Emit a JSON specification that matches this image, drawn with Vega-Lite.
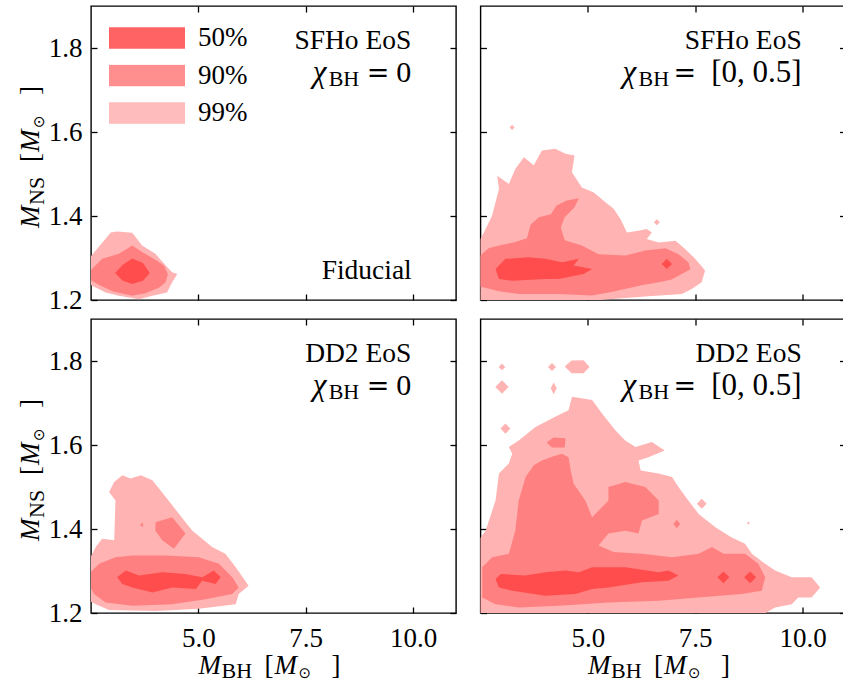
{
  "$schema": "https://vega.github.io/schema/vega-lite/v6.json",
  "padding": {"left": 16, "top": 4, "right": 0, "bottom": 0},
  "config": {
    "font": "Liberation Serif",
    "view": {"stroke": "#000", "strokeWidth": 1.4},
    "axis": {"domain": false, "grid": false, "ticks": true, "tickSize": -6, "tickColor": "#000", "tickWidth": 1.3, "labelFont": "Liberation Serif", "labelFontSize": 27, "labelColor": "#000", "labelFlush": false, "labelOverlap": false, "labelBound": false},
    "legend": {"labelFont": "Liberation Serif"},
    "text": {"font": "Liberation Serif", "fontSize": 27, "color": "#000"}
  },
  "datasets": {
    "c": [
      {"p":"TL","l":"99%","g":"a","x":2.45,"y":1.298},{"p":"TL","l":"99%","g":"a","x":2.96,"y":1.361},{"p":"TL","l":"99%","g":"a","x":3.11,"y":1.363},{"p":"TL","l":"99%","g":"a","x":3.46,"y":1.36},{"p":"TL","l":"99%","g":"a","x":3.69,"y":1.33},{"p":"TL","l":"99%","g":"a","x":4.0,"y":1.31},{"p":"TL","l":"99%","g":"a","x":4.24,"y":1.282},{"p":"TL","l":"99%","g":"a","x":4.39,"y":1.266},{"p":"TL","l":"99%","g":"a","x":4.51,"y":1.262},{"p":"TL","l":"99%","g":"a","x":4.39,"y":1.242},{"p":"TL","l":"99%","g":"a","x":4.27,"y":1.218},{"p":"TL","l":"99%","g":"a","x":3.93,"y":1.21},{"p":"TL","l":"99%","g":"a","x":3.62,"y":1.202},{"p":"TL","l":"99%","g":"a","x":3.15,"y":1.21},{"p":"TL","l":"99%","g":"a","x":2.84,"y":1.218},{"p":"TL","l":"99%","g":"a","x":2.61,"y":1.23},{"p":"TL","l":"99%","g":"a","x":2.45,"y":1.238},
      {"p":"TL","l":"90%","g":"b","x":2.45,"y":1.266},{"p":"TL","l":"90%","g":"b","x":2.76,"y":1.298},{"p":"TL","l":"90%","g":"b","x":3.15,"y":1.31},{"p":"TL","l":"90%","g":"b","x":3.46,"y":1.33},{"p":"TL","l":"90%","g":"b","x":3.69,"y":1.314},{"p":"TL","l":"90%","g":"b","x":4.0,"y":1.296},{"p":"TL","l":"90%","g":"b","x":4.2,"y":1.282},{"p":"TL","l":"90%","g":"b","x":4.29,"y":1.262},{"p":"TL","l":"90%","g":"b","x":4.24,"y":1.242},{"p":"TL","l":"90%","g":"b","x":4.08,"y":1.229},{"p":"TL","l":"90%","g":"b","x":3.77,"y":1.216},{"p":"TL","l":"90%","g":"b","x":3.46,"y":1.21},{"p":"TL","l":"90%","g":"b","x":3.0,"y":1.221},{"p":"TL","l":"90%","g":"b","x":2.69,"y":1.236},{"p":"TL","l":"90%","g":"b","x":2.45,"y":1.25},
      {"p":"TL","l":"50%","g":"c","x":3.06,"y":1.264},{"p":"TL","l":"50%","g":"c","x":3.24,"y":1.284},{"p":"TL","l":"50%","g":"c","x":3.46,"y":1.299},{"p":"TL","l":"50%","g":"c","x":3.71,"y":1.288},{"p":"TL","l":"50%","g":"c","x":3.87,"y":1.264},{"p":"TL","l":"50%","g":"c","x":3.71,"y":1.246},{"p":"TL","l":"50%","g":"c","x":3.46,"y":1.238},{"p":"TL","l":"50%","g":"c","x":3.24,"y":1.246},

      {"p":"TR","l":"99%","g":"d","x":2.45,"y":1.19},{"p":"TR","l":"99%","g":"d","x":2.45,"y":1.337},{"p":"TR","l":"99%","g":"d","x":2.58,"y":1.361},{"p":"TR","l":"99%","g":"d","x":2.77,"y":1.401},{"p":"TR","l":"99%","g":"d","x":2.93,"y":1.464},{"p":"TR","l":"99%","g":"d","x":2.89,"y":1.496},{"p":"TR","l":"99%","g":"d","x":3.16,"y":1.476},{"p":"TR","l":"99%","g":"d","x":3.31,"y":1.512},{"p":"TR","l":"99%","g":"d","x":3.51,"y":1.54},{"p":"TR","l":"99%","g":"d","x":3.74,"y":1.521},{"p":"TR","l":"99%","g":"d","x":3.93,"y":1.556},{"p":"TR","l":"99%","g":"d","x":4.24,"y":1.56},{"p":"TR","l":"99%","g":"d","x":4.48,"y":1.548},{"p":"TR","l":"99%","g":"d","x":4.69,"y":1.544},{"p":"TR","l":"99%","g":"d","x":4.63,"y":1.504},{"p":"TR","l":"99%","g":"d","x":4.86,"y":1.468},{"p":"TR","l":"99%","g":"d","x":5.14,"y":1.456},{"p":"TR","l":"99%","g":"d","x":5.41,"y":1.433},{"p":"TR","l":"99%","g":"d","x":5.6,"y":1.417},{"p":"TR","l":"99%","g":"d","x":5.76,"y":1.393},{"p":"TR","l":"99%","g":"d","x":5.91,"y":1.361},{"p":"TR","l":"99%","g":"d","x":6.18,"y":1.365},{"p":"TR","l":"99%","g":"d","x":6.37,"y":1.369},{"p":"TR","l":"99%","g":"d","x":6.49,"y":1.361},{"p":"TR","l":"99%","g":"d","x":6.37,"y":1.345},{"p":"TR","l":"99%","g":"d","x":6.65,"y":1.337},{"p":"TR","l":"99%","g":"d","x":7.04,"y":1.341},{"p":"TR","l":"99%","g":"d","x":7.27,"y":1.321},{"p":"TR","l":"99%","g":"d","x":7.5,"y":1.298},{"p":"TR","l":"99%","g":"d","x":7.73,"y":1.27},{"p":"TR","l":"99%","g":"d","x":7.65,"y":1.242},{"p":"TR","l":"99%","g":"d","x":7.42,"y":1.226},{"p":"TR","l":"99%","g":"d","x":7.19,"y":1.214},{"p":"TR","l":"99%","g":"d","x":6.41,"y":1.209},{"p":"TR","l":"99%","g":"d","x":5.48,"y":1.202},{"p":"TR","l":"99%","g":"d","x":4.32,"y":1.19},
      {"p":"TR","l":"99%","g":"e","x":3.177,"y":1.611},{"p":"TR","l":"99%","g":"e","x":3.235,"y":1.617},{"p":"TR","l":"99%","g":"e","x":3.293,"y":1.611},{"p":"TR","l":"99%","g":"e","x":3.235,"y":1.605},
      {"p":"TR","l":"99%","g":"f","x":6.537,"y":1.385},{"p":"TR","l":"99%","g":"f","x":6.607,"y":1.392},{"p":"TR","l":"99%","g":"f","x":6.677,"y":1.385},{"p":"TR","l":"99%","g":"f","x":6.607,"y":1.378},
      {"p":"TR","l":"90%","g":"g","x":2.45,"y":1.302},{"p":"TR","l":"90%","g":"g","x":2.69,"y":1.323},{"p":"TR","l":"90%","g":"g","x":2.93,"y":1.33},{"p":"TR","l":"90%","g":"g","x":3.27,"y":1.337},{"p":"TR","l":"90%","g":"g","x":3.58,"y":1.347},{"p":"TR","l":"90%","g":"g","x":3.67,"y":1.38},{"p":"TR","l":"90%","g":"g","x":3.86,"y":1.397},{"p":"TR","l":"90%","g":"g","x":4.14,"y":1.404},{"p":"TR","l":"90%","g":"g","x":4.27,"y":1.425},{"p":"TR","l":"90%","g":"g","x":4.51,"y":1.437},{"p":"TR","l":"90%","g":"g","x":4.79,"y":1.442},{"p":"TR","l":"90%","g":"g","x":4.69,"y":1.421},{"p":"TR","l":"90%","g":"g","x":4.46,"y":1.397},{"p":"TR","l":"90%","g":"g","x":4.37,"y":1.373},{"p":"TR","l":"90%","g":"g","x":4.46,"y":1.342},{"p":"TR","l":"90%","g":"g","x":4.86,"y":1.33},{"p":"TR","l":"90%","g":"g","x":5.25,"y":1.309},{"p":"TR","l":"90%","g":"g","x":5.88,"y":1.306},{"p":"TR","l":"90%","g":"g","x":6.34,"y":1.318},{"p":"TR","l":"90%","g":"g","x":6.81,"y":1.323},{"p":"TR","l":"90%","g":"g","x":7.11,"y":1.309},{"p":"TR","l":"90%","g":"g","x":7.34,"y":1.29},{"p":"TR","l":"90%","g":"g","x":7.39,"y":1.273},{"p":"TR","l":"90%","g":"g","x":6.95,"y":1.249},{"p":"TR","l":"90%","g":"g","x":6.65,"y":1.242},{"p":"TR","l":"90%","g":"g","x":6.25,"y":1.235},{"p":"TR","l":"90%","g":"g","x":5.55,"y":1.219},{"p":"TR","l":"90%","g":"g","x":5.09,"y":1.211},{"p":"TR","l":"90%","g":"g","x":4.32,"y":1.214},{"p":"TR","l":"90%","g":"g","x":3.39,"y":1.214},{"p":"TR","l":"90%","g":"g","x":2.93,"y":1.221},{"p":"TR","l":"90%","g":"g","x":2.58,"y":1.23},{"p":"TR","l":"90%","g":"g","x":2.45,"y":1.233},
      {"p":"TR","l":"50%","g":"h","x":2.85,"y":1.274},{"p":"TR","l":"50%","g":"h","x":3.08,"y":1.298},{"p":"TR","l":"50%","g":"h","x":3.62,"y":1.302},{"p":"TR","l":"50%","g":"h","x":4.01,"y":1.298},{"p":"TR","l":"50%","g":"h","x":4.4,"y":1.29},{"p":"TR","l":"50%","g":"h","x":4.79,"y":1.298},{"p":"TR","l":"50%","g":"h","x":4.67,"y":1.282},{"p":"TR","l":"50%","g":"h","x":5.1,"y":1.274},{"p":"TR","l":"50%","g":"h","x":4.9,"y":1.262},{"p":"TR","l":"50%","g":"h","x":4.32,"y":1.25},{"p":"TR","l":"50%","g":"h","x":4.01,"y":1.25},{"p":"TR","l":"50%","g":"h","x":3.24,"y":1.246},{"p":"TR","l":"50%","g":"h","x":2.93,"y":1.25},
      {"p":"TR","l":"50%","g":"i","x":6.72,"y":1.286},{"p":"TR","l":"50%","g":"i","x":6.84,"y":1.298},{"p":"TR","l":"50%","g":"i","x":6.96,"y":1.286},{"p":"TR","l":"50%","g":"i","x":6.84,"y":1.274},

      {"p":"BL","l":"99%","g":"j","x":2.45,"y":1.229},{"p":"BL","l":"99%","g":"j","x":2.45,"y":1.325},{"p":"BL","l":"99%","g":"j","x":2.61,"y":1.357},{"p":"BL","l":"99%","g":"j","x":2.76,"y":1.377},{"p":"BL","l":"99%","g":"j","x":3.04,"y":1.373},{"p":"BL","l":"99%","g":"j","x":3.07,"y":1.468},{"p":"BL","l":"99%","g":"j","x":2.92,"y":1.488},{"p":"BL","l":"99%","g":"j","x":3.04,"y":1.512},{"p":"BL","l":"99%","g":"j","x":3.23,"y":1.528},{"p":"BL","l":"99%","g":"j","x":3.42,"y":1.52},{"p":"BL","l":"99%","g":"j","x":3.66,"y":1.528},{"p":"BL","l":"99%","g":"j","x":3.93,"y":1.516},{"p":"BL","l":"99%","g":"j","x":4.24,"y":1.476},{"p":"BL","l":"99%","g":"j","x":4.55,"y":1.436},{"p":"BL","l":"99%","g":"j","x":4.86,"y":1.396},{"p":"BL","l":"99%","g":"j","x":5.32,"y":1.357},{"p":"BL","l":"99%","g":"j","x":5.63,"y":1.341},{"p":"BL","l":"99%","g":"j","x":5.87,"y":1.309},{"p":"BL","l":"99%","g":"j","x":6.17,"y":1.265},{"p":"BL","l":"99%","g":"j","x":5.94,"y":1.245},{"p":"BL","l":"99%","g":"j","x":5.87,"y":1.221},{"p":"BL","l":"99%","g":"j","x":5.01,"y":1.21},{"p":"BL","l":"99%","g":"j","x":4.0,"y":1.205},{"p":"BL","l":"99%","g":"j","x":2.92,"y":1.207},{"p":"BL","l":"99%","g":"j","x":2.61,"y":1.221},
      {"p":"BL","l":"90%","g":"k","x":3.64,"y":1.409},{"p":"BL","l":"90%","g":"k","x":3.7,"y":1.416},{"p":"BL","l":"90%","g":"k","x":3.72,"y":1.405},
      {"p":"BL","l":"90%","g":"l","x":4.0,"y":1.416},{"p":"BL","l":"90%","g":"l","x":4.39,"y":1.428},{"p":"BL","l":"90%","g":"l","x":4.7,"y":1.389},{"p":"BL","l":"90%","g":"l","x":4.43,"y":1.353},{"p":"BL","l":"90%","g":"l","x":4.16,"y":1.373},{"p":"BL","l":"90%","g":"l","x":4.0,"y":1.396},
      {"p":"BL","l":"90%","g":"m","x":2.45,"y":1.293},{"p":"BL","l":"90%","g":"m","x":2.69,"y":1.317},{"p":"BL","l":"90%","g":"m","x":3.07,"y":1.333},{"p":"BL","l":"90%","g":"m","x":3.46,"y":1.337},{"p":"BL","l":"90%","g":"m","x":4.24,"y":1.337},{"p":"BL","l":"90%","g":"m","x":5.01,"y":1.333},{"p":"BL","l":"90%","g":"m","x":5.48,"y":1.317},{"p":"BL","l":"90%","g":"m","x":5.79,"y":1.285},{"p":"BL","l":"90%","g":"m","x":5.94,"y":1.261},{"p":"BL","l":"90%","g":"m","x":5.79,"y":1.245},{"p":"BL","l":"90%","g":"m","x":5.17,"y":1.233},{"p":"BL","l":"90%","g":"m","x":4.39,"y":1.221},{"p":"BL","l":"90%","g":"m","x":3.46,"y":1.217},{"p":"BL","l":"90%","g":"m","x":2.84,"y":1.225},{"p":"BL","l":"90%","g":"m","x":2.57,"y":1.245},{"p":"BL","l":"90%","g":"m","x":2.45,"y":1.269},
      {"p":"BL","l":"50%","g":"n","x":3.11,"y":1.285},{"p":"BL","l":"50%","g":"n","x":3.31,"y":1.301},{"p":"BL","l":"50%","g":"n","x":3.62,"y":1.289},{"p":"BL","l":"50%","g":"n","x":4.16,"y":1.297},{"p":"BL","l":"50%","g":"n","x":4.7,"y":1.293},{"p":"BL","l":"50%","g":"n","x":5.09,"y":1.285},{"p":"BL","l":"50%","g":"n","x":5.36,"y":1.301},{"p":"BL","l":"50%","g":"n","x":5.52,"y":1.285},{"p":"BL","l":"50%","g":"n","x":5.4,"y":1.269},{"p":"BL","l":"50%","g":"n","x":5.09,"y":1.277},{"p":"BL","l":"50%","g":"n","x":4.94,"y":1.257},{"p":"BL","l":"50%","g":"n","x":4.39,"y":1.261},{"p":"BL","l":"50%","g":"n","x":3.93,"y":1.249},{"p":"BL","l":"50%","g":"n","x":3.46,"y":1.261},{"p":"BL","l":"50%","g":"n","x":3.23,"y":1.269},

      {"p":"BR","l":"99%","g":"o","x":2.45,"y":1.19},{"p":"BR","l":"99%","g":"o","x":2.45,"y":1.373},{"p":"BR","l":"99%","g":"o","x":2.62,"y":1.396},{"p":"BR","l":"99%","g":"o","x":2.85,"y":1.468},{"p":"BR","l":"99%","g":"o","x":2.93,"y":1.532},{"p":"BR","l":"99%","g":"o","x":3.16,"y":1.556},{"p":"BR","l":"99%","g":"o","x":3.24,"y":1.579},{"p":"BR","l":"99%","g":"o","x":3.16,"y":1.595},{"p":"BR","l":"99%","g":"o","x":3.39,"y":1.611},{"p":"BR","l":"99%","g":"o","x":3.78,"y":1.643},{"p":"BR","l":"99%","g":"o","x":4.24,"y":1.667},{"p":"BR","l":"99%","g":"o","x":4.55,"y":1.683},{"p":"BR","l":"99%","g":"o","x":4.63,"y":1.715},{"p":"BR","l":"99%","g":"o","x":5.1,"y":1.707},{"p":"BR","l":"99%","g":"o","x":5.33,"y":1.675},{"p":"BR","l":"99%","g":"o","x":5.64,"y":1.635},{"p":"BR","l":"99%","g":"o","x":5.87,"y":1.611},{"p":"BR","l":"99%","g":"o","x":6.11,"y":1.595},{"p":"BR","l":"99%","g":"o","x":6.49,"y":1.607},{"p":"BR","l":"99%","g":"o","x":6.79,"y":1.587},{"p":"BR","l":"99%","g":"o","x":6.41,"y":1.571},{"p":"BR","l":"99%","g":"o","x":6.18,"y":1.563},{"p":"BR","l":"99%","g":"o","x":6.23,"y":1.539},{"p":"BR","l":"99%","g":"o","x":6.65,"y":1.532},{"p":"BR","l":"99%","g":"o","x":6.96,"y":1.524},{"p":"BR","l":"99%","g":"o","x":7.11,"y":1.5},{"p":"BR","l":"99%","g":"o","x":7.34,"y":1.468},{"p":"BR","l":"99%","g":"o","x":7.58,"y":1.436},{"p":"BR","l":"99%","g":"o","x":7.97,"y":1.404},{"p":"BR","l":"99%","g":"o","x":8.35,"y":1.38},{"p":"BR","l":"99%","g":"o","x":8.66,"y":1.365},{"p":"BR","l":"99%","g":"o","x":8.82,"y":1.341},{"p":"BR","l":"99%","g":"o","x":9.13,"y":1.317},{"p":"BR","l":"99%","g":"o","x":9.36,"y":1.301},{"p":"BR","l":"99%","g":"o","x":9.75,"y":1.285},{"p":"BR","l":"99%","g":"o","x":10.21,"y":1.285},{"p":"BR","l":"99%","g":"o","x":10.41,"y":1.261},{"p":"BR","l":"99%","g":"o","x":10.21,"y":1.237},{"p":"BR","l":"99%","g":"o","x":9.9,"y":1.237},{"p":"BR","l":"99%","g":"o","x":9.75,"y":1.221},{"p":"BR","l":"99%","g":"o","x":9.36,"y":1.213},{"p":"BR","l":"99%","g":"o","x":8.97,"y":1.19},
      {"p":"BR","l":"99%","g":"p","x":2.923,"y":1.786},{"p":"BR","l":"99%","g":"p","x":3.0,"y":1.794},{"p":"BR","l":"99%","g":"p","x":3.077,"y":1.786},{"p":"BR","l":"99%","g":"p","x":3.0,"y":1.778},
      {"p":"BR","l":"99%","g":"q","x":2.845,"y":1.738},{"p":"BR","l":"99%","g":"q","x":3.0,"y":1.754},{"p":"BR","l":"99%","g":"q","x":3.155,"y":1.738},{"p":"BR","l":"99%","g":"q","x":3.0,"y":1.722},
      {"p":"BR","l":"99%","g":"r","x":4.072,"y":1.786},{"p":"BR","l":"99%","g":"r","x":4.165,"y":1.795},{"p":"BR","l":"99%","g":"r","x":4.258,"y":1.786},{"p":"BR","l":"99%","g":"r","x":4.165,"y":1.776},
      {"p":"BR","l":"99%","g":"s","x":4.135,"y":1.735},{"p":"BR","l":"99%","g":"s","x":4.205,"y":1.749},{"p":"BR","l":"99%","g":"s","x":4.275,"y":1.735},{"p":"BR","l":"99%","g":"s","x":4.205,"y":1.721},
      {"p":"BR","l":"99%","g":"t","x":4.46,"y":1.787},{"p":"BR","l":"99%","g":"t","x":4.62,"y":1.801},{"p":"BR","l":"99%","g":"t","x":4.9,"y":1.802},{"p":"BR","l":"99%","g":"t","x":5.04,"y":1.786},{"p":"BR","l":"99%","g":"t","x":4.9,"y":1.771},{"p":"BR","l":"99%","g":"t","x":4.62,"y":1.771},
      {"p":"BR","l":"99%","g":"u","x":2.965,"y":1.639},{"p":"BR","l":"99%","g":"u","x":3.081,"y":1.651},{"p":"BR","l":"99%","g":"u","x":3.197,"y":1.639},{"p":"BR","l":"99%","g":"u","x":3.081,"y":1.627},
      {"p":"BR","l":"99%","g":"v","x":7.537,"y":1.46},{"p":"BR","l":"99%","g":"v","x":7.653,"y":1.472},{"p":"BR","l":"99%","g":"v","x":7.769,"y":1.46},{"p":"BR","l":"99%","g":"v","x":7.653,"y":1.448},
      {"p":"BR","l":"99%","g":"w","x":8.705,"y":1.414},{"p":"BR","l":"99%","g":"w","x":8.74,"y":1.4175},{"p":"BR","l":"99%","g":"w","x":8.775,"y":1.414},{"p":"BR","l":"99%","g":"w","x":8.74,"y":1.4105},
      {"p":"BR","l":"90%","g":"x","x":2.54,"y":1.237},{"p":"BR","l":"90%","g":"x","x":2.54,"y":1.309},{"p":"BR","l":"90%","g":"x","x":2.77,"y":1.333},{"p":"BR","l":"90%","g":"x","x":3.16,"y":1.341},{"p":"BR","l":"90%","g":"x","x":3.31,"y":1.396},{"p":"BR","l":"90%","g":"x","x":3.39,"y":1.468},{"p":"BR","l":"90%","g":"x","x":3.55,"y":1.524},{"p":"BR","l":"90%","g":"x","x":3.74,"y":1.552},{"p":"BR","l":"90%","g":"x","x":3.93,"y":1.563},{"p":"BR","l":"90%","g":"x","x":4.2,"y":1.573},{"p":"BR","l":"90%","g":"x","x":4.4,"y":1.579},{"p":"BR","l":"90%","g":"x","x":4.55,"y":1.571},{"p":"BR","l":"90%","g":"x","x":4.6,"y":1.54},{"p":"BR","l":"90%","g":"x","x":4.67,"y":1.508},{"p":"BR","l":"90%","g":"x","x":4.94,"y":1.468},{"p":"BR","l":"90%","g":"x","x":5.1,"y":1.428},{"p":"BR","l":"90%","g":"x","x":5.48,"y":1.468},{"p":"BR","l":"90%","g":"x","x":5.48,"y":1.5},{"p":"BR","l":"90%","g":"x","x":5.87,"y":1.512},{"p":"BR","l":"90%","g":"x","x":6.34,"y":1.5},{"p":"BR","l":"90%","g":"x","x":6.65,"y":1.468},{"p":"BR","l":"90%","g":"x","x":6.65,"y":1.436},{"p":"BR","l":"90%","g":"x","x":6.26,"y":1.42},{"p":"BR","l":"90%","g":"x","x":6.18,"y":1.389},{"p":"BR","l":"90%","g":"x","x":5.87,"y":1.396},{"p":"BR","l":"90%","g":"x","x":5.48,"y":1.389},{"p":"BR","l":"90%","g":"x","x":5.25,"y":1.361},{"p":"BR","l":"90%","g":"x","x":5.6,"y":1.345},{"p":"BR","l":"90%","g":"x","x":6.26,"y":1.341},{"p":"BR","l":"90%","g":"x","x":6.96,"y":1.333},{"p":"BR","l":"90%","g":"x","x":7.58,"y":1.341},{"p":"BR","l":"90%","g":"x","x":7.89,"y":1.357},{"p":"BR","l":"90%","g":"x","x":8.16,"y":1.341},{"p":"BR","l":"90%","g":"x","x":8.66,"y":1.341},{"p":"BR","l":"90%","g":"x","x":8.97,"y":1.317},{"p":"BR","l":"90%","g":"x","x":9.13,"y":1.285},{"p":"BR","l":"90%","g":"x","x":9.05,"y":1.253},{"p":"BR","l":"90%","g":"x","x":8.58,"y":1.245},{"p":"BR","l":"90%","g":"x","x":7.58,"y":1.237},{"p":"BR","l":"90%","g":"x","x":6.65,"y":1.229},{"p":"BR","l":"90%","g":"x","x":5.48,"y":1.225},{"p":"BR","l":"90%","g":"x","x":4.32,"y":1.217},{"p":"BR","l":"90%","g":"x","x":3.39,"y":1.213},{"p":"BR","l":"90%","g":"x","x":2.85,"y":1.221},
      {"p":"BR","l":"90%","g":"y","x":4.04,"y":1.606},{"p":"BR","l":"90%","g":"y","x":4.2,"y":1.618},{"p":"BR","l":"90%","g":"y","x":4.48,"y":1.616},{"p":"BR","l":"90%","g":"y","x":4.46,"y":1.594},{"p":"BR","l":"90%","g":"y","x":4.16,"y":1.594},
      {"p":"BR","l":"90%","g":"z","x":6.992,"y":1.412},{"p":"BR","l":"90%","g":"z","x":7.072,"y":1.422},{"p":"BR","l":"90%","g":"z","x":7.152,"y":1.412},{"p":"BR","l":"90%","g":"z","x":7.072,"y":1.402},
      {"p":"BR","l":"50%","g":"A","x":2.85,"y":1.281},{"p":"BR","l":"50%","g":"A","x":2.97,"y":1.293},{"p":"BR","l":"50%","g":"A","x":3.55,"y":1.289},{"p":"BR","l":"50%","g":"A","x":4.01,"y":1.297},{"p":"BR","l":"50%","g":"A","x":4.48,"y":1.301},{"p":"BR","l":"50%","g":"A","x":4.79,"y":1.297},{"p":"BR","l":"50%","g":"A","x":5.1,"y":1.309},{"p":"BR","l":"50%","g":"A","x":5.87,"y":1.309},{"p":"BR","l":"50%","g":"A","x":6.65,"y":1.297},{"p":"BR","l":"50%","g":"A","x":6.88,"y":1.301},{"p":"BR","l":"50%","g":"A","x":7.11,"y":1.289},{"p":"BR","l":"50%","g":"A","x":6.88,"y":1.277},{"p":"BR","l":"50%","g":"A","x":6.26,"y":1.273},{"p":"BR","l":"50%","g":"A","x":5.48,"y":1.261},{"p":"BR","l":"50%","g":"A","x":5.1,"y":1.257},{"p":"BR","l":"50%","g":"A","x":4.71,"y":1.245},{"p":"BR","l":"50%","g":"A","x":4.01,"y":1.241},{"p":"BR","l":"50%","g":"A","x":3.24,"y":1.253},{"p":"BR","l":"50%","g":"A","x":2.93,"y":1.261},
      {"p":"BR","l":"50%","g":"B","x":8.018,"y":1.285},{"p":"BR","l":"50%","g":"B","x":8.158,"y":1.299},{"p":"BR","l":"50%","g":"B","x":8.298,"y":1.285},{"p":"BR","l":"50%","g":"B","x":8.158,"y":1.271},
      {"p":"BR","l":"50%","g":"C","x":8.639,"y":1.285},{"p":"BR","l":"50%","g":"C","x":8.779,"y":1.299},{"p":"BR","l":"50%","g":"C","x":8.919,"y":1.285},{"p":"BR","l":"50%","g":"C","x":8.779,"y":1.271}
    ]
  },
  "spacing": 3,
  "vconcat": [
    {
      "spacing": 20.5,
      "hconcat": [
        {
          "width": 365, "height": 294,
          "resolve": {"axis": {"x": "independent", "y": "independent"}},
          "layer": [
            {"data": {"name": "c"}, "transform": [{"filter": "datum.p == 'TL' && datum.l == '99%'"}],
             "mark": {"type": "line", "filled": true, "clip": true, "strokeWidth": 0, "opacity": 1},
             "encoding": {
               "x": {"field": "x", "type": "quantitative", "scale": {"domain": [2.5, 11], "nice": false, "zero": false}, "axis": {"orient": "bottom", "values": [5, 7.5, 10], "labels": false, "title": null}},
               "y": {"field": "y", "type": "quantitative", "scale": {"domain": [1.2, 1.9], "nice": false, "zero": false}, "axis": {"orient": "left", "values": [1.2, 1.4, 1.6, 1.8], "format": ".1f", "labelFont": "Liberation Serif", "labelPadding": 15, "title": null}},
               "color": {"field": "l", "type": "nominal", "scale": {"domain": ["50%", "90%", "99%"], "range": ["#ff4d4d", "#ff8080", "#ffb3b3"]},
                 "legend": {"orient": "none", "legendX": 18, "legendY": 21, "title": null, "symbolType": "M-1,-0.285H1V0.285H-1Z", "symbolSize": 5776, "clipHeight": 22, "rowPadding": 10.5, "labelOffset": 13, "labelFont": "Liberation Serif", "labelFontSize": 27, "labelColor": "#000", "labelBaseline": "middle", "symbolStrokeWidth": 0, "symbolOpacity": 0.88, "padding": 0}},
               "detail": {"field": "g"}, "order": {"value": null}}},
            {"data": {"name": "c"}, "transform": [{"filter": "datum.p == 'TL' && datum.l == '90%'"}],
             "mark": {"type": "line", "filled": true, "clip": true, "strokeWidth": 0, "opacity": 1},
             "encoding": {
               "x": {"field": "x", "type": "quantitative", "scale": {"domain": [2.5, 11], "nice": false, "zero": false}, "axis": null},
               "y": {"field": "y", "type": "quantitative", "scale": {"domain": [1.2, 1.9], "nice": false, "zero": false}, "axis": null},
               "color": {"field": "l", "type": "nominal", "legend": null}, "detail": {"field": "g"}, "order": {"value": null}}},
            {"data": {"name": "c"}, "transform": [{"filter": "datum.p == 'TL' && datum.l == '50%'"}],
             "mark": {"type": "line", "filled": true, "clip": true, "strokeWidth": 0, "opacity": 1},
             "encoding": {
               "x": {"field": "x", "type": "quantitative", "scale": {"domain": [2.5, 11], "nice": false, "zero": false}, "axis": null},
               "y": {"field": "y", "type": "quantitative", "scale": {"domain": [1.2, 1.9], "nice": false, "zero": false}, "axis": null},
               "color": {"field": "l", "type": "nominal", "legend": null}, "detail": {"field": "g"}, "order": {"value": null}}},
            {"data": {"values": [{}]}, "mark": {"type": "text", "text": "SFHo EoS", "align": "right", "baseline": "alphabetic", "font": "Liberation Serif", "fontSize": 27.5},
             "encoding": {"x": {"datum": 9.96, "type": "quantitative", "axis": {"orient": "top", "values": [5, 7.5, 10], "labels": false, "title": null}},
                          "y": {"datum": 1.798, "type": "quantitative", "axis": {"orient": "right", "values": [1.2, 1.4, 1.6, 1.8], "labels": false, "title": null}}}},
            {"data": {"values": [{}]}, "mark": {"type": "text", "text": "χ", "align": "left", "baseline": "alphabetic", "font": "Liberation Serif", "fontStyle": "italic", "fontSize": 31},
             "encoding": {"x": {"datum": 7.663, "type": "quantitative", "axis": null}, "y": {"datum": 1.72, "type": "quantitative", "axis": null}}},
            {"data": {"values": [{}]}, "mark": {"type": "text", "text": "BH", "align": "left", "baseline": "alphabetic", "font": "Liberation Serif", "fontSize": 22, "dy": 4},
             "encoding": {"x": {"datum": 8.035, "type": "quantitative", "axis": null}, "y": {"datum": 1.72, "type": "quantitative", "axis": null}}},
            {"data": {"values": [{}]}, "mark": {"type": "text", "text": "=", "align": "left", "baseline": "alphabetic", "font": "DejaVu Serif", "fontSize": 27},
             "encoding": {"x": {"datum": 8.92, "type": "quantitative", "axis": null}, "y": {"datum": 1.72, "type": "quantitative", "axis": null}}},
            {"data": {"values": [{}]}, "mark": {"type": "text", "text": "0", "align": "right", "baseline": "alphabetic", "font": "Liberation Serif", "fontSize": 30},
             "encoding": {"x": {"datum": 9.96, "type": "quantitative", "axis": null}, "y": {"datum": 1.72, "type": "quantitative", "axis": null}}},
            {"data": {"values": [{}]}, "mark": {"type": "text", "text": "Fiducial", "align": "right", "baseline": "alphabetic", "font": "Liberation Serif", "fontSize": 27.5},
             "encoding": {"x": {"datum": 9.97, "type": "quantitative", "axis": null}, "y": {"datum": 1.25, "type": "quantitative", "axis": null}}},
            {"data": {"values": [{}]}, "mark": {"type": "text", "text": "M", "angle": 270, "align": "left", "baseline": "alphabetic", "font": "Liberation Serif", "fontStyle": "italic", "dx": -75, "dy": -52},
             "encoding": {"x": {"datum": 2.5, "type": "quantitative", "axis": null}, "y": {"datum": 1.55, "type": "quantitative", "axis": null}}},
            {"data": {"values": [{}]}, "mark": {"type": "text", "text": "NS", "angle": 270, "align": "left", "baseline": "alphabetic", "font": "Liberation Serif", "fontSize": 22, "dx": -52, "dy": -47},
             "encoding": {"x": {"datum": 2.5, "type": "quantitative", "axis": null}, "y": {"datum": 1.55, "type": "quantitative", "axis": null}}},
            {"data": {"values": [{}]}, "mark": {"type": "text", "text": "[", "angle": 270, "align": "left", "baseline": "alphabetic", "font": "Liberation Serif", "dx": -9, "dy": -52},
             "encoding": {"x": {"datum": 2.5, "type": "quantitative", "axis": null}, "y": {"datum": 1.55, "type": "quantitative", "axis": null}}},
            {"data": {"values": [{}]}, "mark": {"type": "text", "text": "M", "angle": 270, "align": "left", "baseline": "alphabetic", "font": "Liberation Serif", "fontStyle": "italic", "dx": 1, "dy": -52},
             "encoding": {"x": {"datum": 2.5, "type": "quantitative", "axis": null}, "y": {"datum": 1.55, "type": "quantitative", "axis": null}}},
            {"data": {"values": [{}]}, "mark": {"type": "text", "text": "⊙", "angle": 270, "align": "left", "baseline": "alphabetic", "font": "DejaVu Sans", "fontSize": 15, "dx": 25, "dy": -47},
             "encoding": {"x": {"datum": 2.5, "type": "quantitative", "axis": null}, "y": {"datum": 1.55, "type": "quantitative", "axis": null}}},
            {"data": {"values": [{}]}, "mark": {"type": "text", "text": "]", "angle": 270, "align": "left", "baseline": "alphabetic", "font": "Liberation Serif", "dx": 58, "dy": -52},
             "encoding": {"x": {"datum": 2.5, "type": "quantitative", "axis": null}, "y": {"datum": 1.55, "type": "quantitative", "axis": null}}}
          ]
        },
        {
          "width": 365, "height": 294,
          "resolve": {"axis": {"x": "independent", "y": "independent"}},
          "layer": [
            {"data": {"name": "c"}, "transform": [{"filter": "datum.p == 'TR' && datum.l == '99%'"}],
             "mark": {"type": "line", "filled": true, "clip": true, "strokeWidth": 0, "opacity": 1},
             "encoding": {
               "x": {"field": "x", "type": "quantitative", "scale": {"domain": [2.5, 11], "nice": false, "zero": false}, "axis": {"orient": "bottom", "values": [5, 7.5, 10], "labels": false, "title": null}},
               "y": {"field": "y", "type": "quantitative", "scale": {"domain": [1.2, 1.9], "nice": false, "zero": false}, "axis": {"orient": "left", "values": [1.2, 1.4, 1.6, 1.8], "labels": false, "title": null}},
               "color": {"field": "l", "type": "nominal", "legend": null}, "detail": {"field": "g"}, "order": {"value": null}}},
            {"data": {"name": "c"}, "transform": [{"filter": "datum.p == 'TR' && datum.l == '90%'"}],
             "mark": {"type": "line", "filled": true, "clip": true, "strokeWidth": 0, "opacity": 1},
             "encoding": {
               "x": {"field": "x", "type": "quantitative", "scale": {"domain": [2.5, 11], "nice": false, "zero": false}, "axis": null},
               "y": {"field": "y", "type": "quantitative", "scale": {"domain": [1.2, 1.9], "nice": false, "zero": false}, "axis": null},
               "color": {"field": "l", "type": "nominal", "legend": null}, "detail": {"field": "g"}, "order": {"value": null}}},
            {"data": {"name": "c"}, "transform": [{"filter": "datum.p == 'TR' && datum.l == '50%'"}],
             "mark": {"type": "line", "filled": true, "clip": true, "strokeWidth": 0, "opacity": 1},
             "encoding": {
               "x": {"field": "x", "type": "quantitative", "scale": {"domain": [2.5, 11], "nice": false, "zero": false}, "axis": null},
               "y": {"field": "y", "type": "quantitative", "scale": {"domain": [1.2, 1.9], "nice": false, "zero": false}, "axis": null},
               "color": {"field": "l", "type": "nominal", "legend": null}, "detail": {"field": "g"}, "order": {"value": null}}},
            {"data": {"values": [{}]}, "mark": {"type": "text", "text": "SFHo EoS", "align": "right", "baseline": "alphabetic", "font": "Liberation Serif", "fontSize": 27.5},
             "encoding": {"x": {"datum": 9.98, "type": "quantitative", "axis": {"orient": "top", "values": [5, 7.5, 10], "labels": false, "title": null}},
                          "y": {"datum": 1.798, "type": "quantitative", "axis": {"orient": "right", "values": [1.2, 1.4, 1.6, 1.8], "labels": false, "title": null}}}},
            {"data": {"values": [{}]}, "mark": {"type": "text", "text": "χ", "align": "left", "baseline": "alphabetic", "font": "Liberation Serif", "fontStyle": "italic", "fontSize": 31},
             "encoding": {"x": {"datum": 5.809, "type": "quantitative", "axis": null}, "y": {"datum": 1.72, "type": "quantitative", "axis": null}}},
            {"data": {"values": [{}]}, "mark": {"type": "text", "text": "BH", "align": "left", "baseline": "alphabetic", "font": "Liberation Serif", "fontSize": 22, "dy": 4},
             "encoding": {"x": {"datum": 6.18, "type": "quantitative", "axis": null}, "y": {"datum": 1.72, "type": "quantitative", "axis": null}}},
            {"data": {"values": [{}]}, "mark": {"type": "text", "text": "=", "align": "left", "baseline": "alphabetic", "font": "DejaVu Serif", "fontSize": 27},
             "encoding": {"x": {"datum": 6.995, "type": "quantitative", "axis": null}, "y": {"datum": 1.72, "type": "quantitative", "axis": null}}},
            {"data": {"values": [{}]}, "mark": {"type": "text", "text": "[0, 0.5]", "align": "right", "baseline": "alphabetic", "font": "Liberation Serif", "fontSize": 31},
             "encoding": {"x": {"datum": 9.98, "type": "quantitative", "axis": null}, "y": {"datum": 1.72, "type": "quantitative", "axis": null}}}
          ]
        }
      ]
    },
    {
      "spacing": 20.5,
      "hconcat": [
        {
          "width": 365, "height": 294,
          "resolve": {"axis": {"x": "independent", "y": "independent"}},
          "layer": [
            {"data": {"name": "c"}, "transform": [{"filter": "datum.p == 'BL' && datum.l == '99%'"}],
             "mark": {"type": "line", "filled": true, "clip": true, "strokeWidth": 0, "opacity": 1},
             "encoding": {
               "x": {"field": "x", "type": "quantitative", "scale": {"domain": [2.5, 11], "nice": false, "zero": false}, "axis": {"orient": "bottom", "values": [5, 7.5, 10], "format": ".1f", "labelFont": "Liberation Serif", "labelPadding": 18, "title": null}},
               "y": {"field": "y", "type": "quantitative", "scale": {"domain": [1.2, 1.9], "nice": false, "zero": false}, "axis": {"orient": "left", "values": [1.2, 1.4, 1.6, 1.8], "format": ".1f", "labelFont": "Liberation Serif", "labelPadding": 15, "title": null}},
               "color": {"field": "l", "type": "nominal", "legend": null}, "detail": {"field": "g"}, "order": {"value": null}}},
            {"data": {"name": "c"}, "transform": [{"filter": "datum.p == 'BL' && datum.l == '90%'"}],
             "mark": {"type": "line", "filled": true, "clip": true, "strokeWidth": 0, "opacity": 1},
             "encoding": {
               "x": {"field": "x", "type": "quantitative", "scale": {"domain": [2.5, 11], "nice": false, "zero": false}, "axis": null},
               "y": {"field": "y", "type": "quantitative", "scale": {"domain": [1.2, 1.9], "nice": false, "zero": false}, "axis": null},
               "color": {"field": "l", "type": "nominal", "legend": null}, "detail": {"field": "g"}, "order": {"value": null}}},
            {"data": {"name": "c"}, "transform": [{"filter": "datum.p == 'BL' && datum.l == '50%'"}],
             "mark": {"type": "line", "filled": true, "clip": true, "strokeWidth": 0, "opacity": 1},
             "encoding": {
               "x": {"field": "x", "type": "quantitative", "scale": {"domain": [2.5, 11], "nice": false, "zero": false}, "axis": null},
               "y": {"field": "y", "type": "quantitative", "scale": {"domain": [1.2, 1.9], "nice": false, "zero": false}, "axis": null},
               "color": {"field": "l", "type": "nominal", "legend": null}, "detail": {"field": "g"}, "order": {"value": null}}},
            {"data": {"values": [{}]}, "mark": {"type": "text", "text": "DD2 EoS", "align": "right", "baseline": "alphabetic", "font": "Liberation Serif", "fontSize": 27.5},
             "encoding": {"x": {"datum": 9.96, "type": "quantitative", "axis": {"orient": "top", "values": [5, 7.5, 10], "labels": false, "title": null}},
                          "y": {"datum": 1.798, "type": "quantitative", "axis": {"orient": "right", "values": [1.2, 1.4, 1.6, 1.8], "labels": false, "title": null}}}},
            {"data": {"values": [{}]}, "mark": {"type": "text", "text": "χ", "align": "left", "baseline": "alphabetic", "font": "Liberation Serif", "fontStyle": "italic", "fontSize": 31},
             "encoding": {"x": {"datum": 7.663, "type": "quantitative", "axis": null}, "y": {"datum": 1.72, "type": "quantitative", "axis": null}}},
            {"data": {"values": [{}]}, "mark": {"type": "text", "text": "BH", "align": "left", "baseline": "alphabetic", "font": "Liberation Serif", "fontSize": 22, "dy": 4},
             "encoding": {"x": {"datum": 8.035, "type": "quantitative", "axis": null}, "y": {"datum": 1.72, "type": "quantitative", "axis": null}}},
            {"data": {"values": [{}]}, "mark": {"type": "text", "text": "=", "align": "left", "baseline": "alphabetic", "font": "DejaVu Serif", "fontSize": 27},
             "encoding": {"x": {"datum": 8.92, "type": "quantitative", "axis": null}, "y": {"datum": 1.72, "type": "quantitative", "axis": null}}},
            {"data": {"values": [{}]}, "mark": {"type": "text", "text": "0", "align": "right", "baseline": "alphabetic", "font": "Liberation Serif", "fontSize": 30},
             "encoding": {"x": {"datum": 9.96, "type": "quantitative", "axis": null}, "y": {"datum": 1.72, "type": "quantitative", "axis": null}}},
            {"data": {"values": [{}]}, "mark": {"type": "text", "text": "M", "angle": 270, "align": "left", "baseline": "alphabetic", "font": "Liberation Serif", "fontStyle": "italic", "dx": -75, "dy": -52},
             "encoding": {"x": {"datum": 2.5, "type": "quantitative", "axis": null}, "y": {"datum": 1.55, "type": "quantitative", "axis": null}}},
            {"data": {"values": [{}]}, "mark": {"type": "text", "text": "NS", "angle": 270, "align": "left", "baseline": "alphabetic", "font": "Liberation Serif", "fontSize": 22, "dx": -52, "dy": -47},
             "encoding": {"x": {"datum": 2.5, "type": "quantitative", "axis": null}, "y": {"datum": 1.55, "type": "quantitative", "axis": null}}},
            {"data": {"values": [{}]}, "mark": {"type": "text", "text": "[", "angle": 270, "align": "left", "baseline": "alphabetic", "font": "Liberation Serif", "dx": -9, "dy": -52},
             "encoding": {"x": {"datum": 2.5, "type": "quantitative", "axis": null}, "y": {"datum": 1.55, "type": "quantitative", "axis": null}}},
            {"data": {"values": [{}]}, "mark": {"type": "text", "text": "M", "angle": 270, "align": "left", "baseline": "alphabetic", "font": "Liberation Serif", "fontStyle": "italic", "dx": 1, "dy": -52},
             "encoding": {"x": {"datum": 2.5, "type": "quantitative", "axis": null}, "y": {"datum": 1.55, "type": "quantitative", "axis": null}}},
            {"data": {"values": [{}]}, "mark": {"type": "text", "text": "⊙", "angle": 270, "align": "left", "baseline": "alphabetic", "font": "DejaVu Sans", "fontSize": 15, "dx": 25, "dy": -47},
             "encoding": {"x": {"datum": 2.5, "type": "quantitative", "axis": null}, "y": {"datum": 1.55, "type": "quantitative", "axis": null}}},
            {"data": {"values": [{}]}, "mark": {"type": "text", "text": "]", "angle": 270, "align": "left", "baseline": "alphabetic", "font": "Liberation Serif", "dx": 58, "dy": -52},
             "encoding": {"x": {"datum": 2.5, "type": "quantitative", "axis": null}, "y": {"datum": 1.55, "type": "quantitative", "axis": null}}},
            {"data": {"values": [{}]}, "mark": {"type": "text", "text": "M", "align": "left", "baseline": "alphabetic", "font": "Liberation Serif", "fontStyle": "italic", "dx": -75, "dy": 61},
             "encoding": {"x": {"datum": 6.75, "type": "quantitative", "axis": null}, "y": {"datum": 1.2, "type": "quantitative", "axis": null}}},
            {"data": {"values": [{}]}, "mark": {"type": "text", "text": "BH", "align": "left", "baseline": "alphabetic", "font": "Liberation Serif", "fontSize": 22, "dx": -52, "dy": 65},
             "encoding": {"x": {"datum": 6.75, "type": "quantitative", "axis": null}, "y": {"datum": 1.2, "type": "quantitative", "axis": null}}},
            {"data": {"values": [{}]}, "mark": {"type": "text", "text": "[", "align": "left", "baseline": "alphabetic", "font": "Liberation Serif", "dx": -9, "dy": 61},
             "encoding": {"x": {"datum": 6.75, "type": "quantitative", "axis": null}, "y": {"datum": 1.2, "type": "quantitative", "axis": null}}},
            {"data": {"values": [{}]}, "mark": {"type": "text", "text": "M", "align": "left", "baseline": "alphabetic", "font": "Liberation Serif", "fontStyle": "italic", "dx": 1, "dy": 61},
             "encoding": {"x": {"datum": 6.75, "type": "quantitative", "axis": null}, "y": {"datum": 1.2, "type": "quantitative", "axis": null}}},
            {"data": {"values": [{}]}, "mark": {"type": "text", "text": "⊙", "align": "left", "baseline": "alphabetic", "font": "DejaVu Sans", "fontSize": 15, "dx": 25, "dy": 65},
             "encoding": {"x": {"datum": 6.75, "type": "quantitative", "axis": null}, "y": {"datum": 1.2, "type": "quantitative", "axis": null}}},
            {"data": {"values": [{}]}, "mark": {"type": "text", "text": "]", "align": "left", "baseline": "alphabetic", "font": "Liberation Serif", "dx": 58, "dy": 61},
             "encoding": {"x": {"datum": 6.75, "type": "quantitative", "axis": null}, "y": {"datum": 1.2, "type": "quantitative", "axis": null}}}
          ]
        },
        {
          "width": 365, "height": 294,
          "resolve": {"axis": {"x": "independent", "y": "independent"}},
          "layer": [
            {"data": {"name": "c"}, "transform": [{"filter": "datum.p == 'BR' && datum.l == '99%'"}],
             "mark": {"type": "line", "filled": true, "clip": true, "strokeWidth": 0, "opacity": 1},
             "encoding": {
               "x": {"field": "x", "type": "quantitative", "scale": {"domain": [2.5, 11], "nice": false, "zero": false}, "axis": {"orient": "bottom", "values": [5, 7.5, 10], "format": ".1f", "labelFont": "Liberation Serif", "labelPadding": 18, "title": null}},
               "y": {"field": "y", "type": "quantitative", "scale": {"domain": [1.2, 1.9], "nice": false, "zero": false}, "axis": {"orient": "left", "values": [1.2, 1.4, 1.6, 1.8], "labels": false, "title": null}},
               "color": {"field": "l", "type": "nominal", "legend": null}, "detail": {"field": "g"}, "order": {"value": null}}},
            {"data": {"name": "c"}, "transform": [{"filter": "datum.p == 'BR' && datum.l == '90%'"}],
             "mark": {"type": "line", "filled": true, "clip": true, "strokeWidth": 0, "opacity": 1},
             "encoding": {
               "x": {"field": "x", "type": "quantitative", "scale": {"domain": [2.5, 11], "nice": false, "zero": false}, "axis": null},
               "y": {"field": "y", "type": "quantitative", "scale": {"domain": [1.2, 1.9], "nice": false, "zero": false}, "axis": null},
               "color": {"field": "l", "type": "nominal", "legend": null}, "detail": {"field": "g"}, "order": {"value": null}}},
            {"data": {"name": "c"}, "transform": [{"filter": "datum.p == 'BR' && datum.l == '50%'"}],
             "mark": {"type": "line", "filled": true, "clip": true, "strokeWidth": 0, "opacity": 1},
             "encoding": {
               "x": {"field": "x", "type": "quantitative", "scale": {"domain": [2.5, 11], "nice": false, "zero": false}, "axis": null},
               "y": {"field": "y", "type": "quantitative", "scale": {"domain": [1.2, 1.9], "nice": false, "zero": false}, "axis": null},
               "color": {"field": "l", "type": "nominal", "legend": null}, "detail": {"field": "g"}, "order": {"value": null}}},
            {"data": {"values": [{}]}, "mark": {"type": "text", "text": "DD2 EoS", "align": "right", "baseline": "alphabetic", "font": "Liberation Serif", "fontSize": 27.5},
             "encoding": {"x": {"datum": 9.98, "type": "quantitative", "axis": {"orient": "top", "values": [5, 7.5, 10], "labels": false, "title": null}},
                          "y": {"datum": 1.798, "type": "quantitative", "axis": {"orient": "right", "values": [1.2, 1.4, 1.6, 1.8], "labels": false, "title": null}}}},
            {"data": {"values": [{}]}, "mark": {"type": "text", "text": "χ", "align": "left", "baseline": "alphabetic", "font": "Liberation Serif", "fontStyle": "italic", "fontSize": 31},
             "encoding": {"x": {"datum": 5.809, "type": "quantitative", "axis": null}, "y": {"datum": 1.72, "type": "quantitative", "axis": null}}},
            {"data": {"values": [{}]}, "mark": {"type": "text", "text": "BH", "align": "left", "baseline": "alphabetic", "font": "Liberation Serif", "fontSize": 22, "dy": 4},
             "encoding": {"x": {"datum": 6.18, "type": "quantitative", "axis": null}, "y": {"datum": 1.72, "type": "quantitative", "axis": null}}},
            {"data": {"values": [{}]}, "mark": {"type": "text", "text": "=", "align": "left", "baseline": "alphabetic", "font": "DejaVu Serif", "fontSize": 27},
             "encoding": {"x": {"datum": 6.995, "type": "quantitative", "axis": null}, "y": {"datum": 1.72, "type": "quantitative", "axis": null}}},
            {"data": {"values": [{}]}, "mark": {"type": "text", "text": "[0, 0.5]", "align": "right", "baseline": "alphabetic", "font": "Liberation Serif", "fontSize": 31},
             "encoding": {"x": {"datum": 9.98, "type": "quantitative", "axis": null}, "y": {"datum": 1.72, "type": "quantitative", "axis": null}}},
            {"data": {"values": [{}]}, "mark": {"type": "text", "text": "M", "align": "left", "baseline": "alphabetic", "font": "Liberation Serif", "fontStyle": "italic", "dx": -75, "dy": 61},
             "encoding": {"x": {"datum": 6.75, "type": "quantitative", "axis": null}, "y": {"datum": 1.2, "type": "quantitative", "axis": null}}},
            {"data": {"values": [{}]}, "mark": {"type": "text", "text": "BH", "align": "left", "baseline": "alphabetic", "font": "Liberation Serif", "fontSize": 22, "dx": -52, "dy": 65},
             "encoding": {"x": {"datum": 6.75, "type": "quantitative", "axis": null}, "y": {"datum": 1.2, "type": "quantitative", "axis": null}}},
            {"data": {"values": [{}]}, "mark": {"type": "text", "text": "[", "align": "left", "baseline": "alphabetic", "font": "Liberation Serif", "dx": -9, "dy": 61},
             "encoding": {"x": {"datum": 6.75, "type": "quantitative", "axis": null}, "y": {"datum": 1.2, "type": "quantitative", "axis": null}}},
            {"data": {"values": [{}]}, "mark": {"type": "text", "text": "M", "align": "left", "baseline": "alphabetic", "font": "Liberation Serif", "fontStyle": "italic", "dx": 1, "dy": 61},
             "encoding": {"x": {"datum": 6.75, "type": "quantitative", "axis": null}, "y": {"datum": 1.2, "type": "quantitative", "axis": null}}},
            {"data": {"values": [{}]}, "mark": {"type": "text", "text": "⊙", "align": "left", "baseline": "alphabetic", "font": "DejaVu Sans", "fontSize": 15, "dx": 25, "dy": 65},
             "encoding": {"x": {"datum": 6.75, "type": "quantitative", "axis": null}, "y": {"datum": 1.2, "type": "quantitative", "axis": null}}},
            {"data": {"values": [{}]}, "mark": {"type": "text", "text": "]", "align": "left", "baseline": "alphabetic", "font": "Liberation Serif", "dx": 58, "dy": 61},
             "encoding": {"x": {"datum": 6.75, "type": "quantitative", "axis": null}, "y": {"datum": 1.2, "type": "quantitative", "axis": null}}}
          ]
        }
      ]
    }
  ]
}
